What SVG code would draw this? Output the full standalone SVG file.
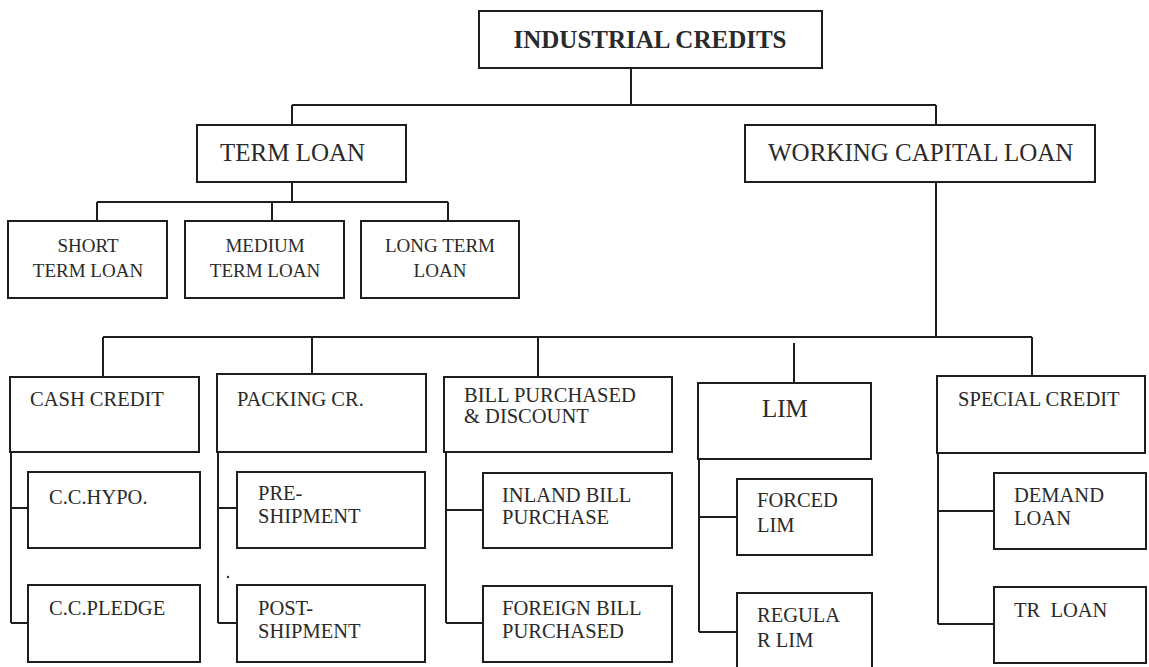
<svg xmlns="http://www.w3.org/2000/svg" width="1149" height="667" viewBox="0 0 1149 667">
  <style>
    .box { fill: #ffffff; stroke: #1e1e1e; stroke-width: 2; }
    .wire { fill: none; stroke: #1e1e1e; stroke-width: 2; }
    text { font-family: "Liberation Serif", "Times New Roman", serif; fill: #2a2a2a; }
    .title { font-size: 25px; font-weight: bold; }
    .big { font-size: 25px; }
    .mid { font-size: 19px; }
    .sm { font-size: 20.5px; }
  </style>
  <rect x="0" y="0" width="1149" height="667" fill="#ffffff"/>

  <!-- connectors -->
  <g id="connectors" class="wire">
    <path d="M631,68 V105 M292,105 H936 M292,105 V125 M936,105 V125"/>
    <path d="M292,182 V202 M97,202 H448 M97,202 V221 M272,202 V221 M448,202 V221"/>
    <path d="M936,182 V337 M103,337 H1032 M103,337 V377 M312,337 V374 M538,337 V377 M794,343 V383 M1032,337 V376"/>
    <path d="M11,452 V623 M11,508 H28 M11,623 H28"/>
    <path d="M218,452 V623 M218,508 H237 M218,623 H237"/>
    <path d="M446,452 V623 M446,510 H483 M446,623 H483"/>
    <path d="M699,459 V632 M699,517 H737 M699,632 H737"/>
    <path d="M938,453 V624 M938,511 H994 M938,624 H994"/>
  </g>

  <g id="industrial-credits">
    <rect class="box" x="479" y="11" width="343" height="57"/>
    <text class="title" x="650" y="48" text-anchor="middle">INDUSTRIAL CREDITS</text>
  </g>

  <g id="term-loan">
    <rect class="box" x="197" y="125" width="209" height="57"/>
    <text class="big" x="220" y="161">TERM LOAN</text>
  </g>

  <g id="working-capital-loan">
    <rect class="box" x="745" y="125" width="350" height="57"/>
    <text class="big" x="768" y="161">WORKING CAPITAL LOAN</text>
  </g>

  <g id="short-term-loan">
    <rect class="box" x="8" y="221" width="159" height="77"/>
    <text class="mid" x="88" y="252" text-anchor="middle">SHORT</text>
    <text class="mid" x="88" y="277" text-anchor="middle">TERM LOAN</text>
  </g>

  <g id="medium-term-loan">
    <rect class="box" x="185" y="221" width="159" height="77"/>
    <text class="mid" x="265" y="252" text-anchor="middle">MEDIUM</text>
    <text class="mid" x="265" y="277" text-anchor="middle">TERM LOAN</text>
  </g>

  <g id="long-term-loan">
    <rect class="box" x="361" y="221" width="158" height="77"/>
    <text class="mid" x="440" y="252" text-anchor="middle">LONG TERM</text>
    <text class="mid" x="440" y="277" text-anchor="middle">LOAN</text>
  </g>

  <g id="cash-credit">
    <rect class="box" x="10" y="377" width="189" height="75"/>
    <text class="sm" x="30" y="406">CASH CREDIT</text>
  </g>

  <g id="packing-credit">
    <rect class="box" x="217" y="374" width="209" height="78"/>
    <text class="sm" x="237" y="406">PACKING CR.</text>
  </g>

  <g id="bill-purchased">
    <rect class="box" x="444" y="377" width="228" height="75"/>
    <text class="sm" x="464" y="402">BILL PURCHASED</text>
    <text class="sm" x="464" y="423">&amp; DISCOUNT</text>
  </g>

  <g id="lim">
    <rect class="box" x="698" y="383" width="173" height="76"/>
    <text class="big" x="762" y="417">LIM</text>
  </g>

  <g id="special-credit">
    <rect class="box" x="937" y="376" width="208" height="77"/>
    <text class="sm" x="958" y="406">SPECIAL CREDIT</text>
  </g>

  <g id="cc-hypo">
    <rect class="box" x="28" y="472" width="172" height="76"/>
    <text class="sm" x="49" y="504">C.C.HYPO.</text>
  </g>

  <g id="cc-pledge">
    <rect class="box" x="28" y="585" width="172" height="77"/>
    <text class="sm" x="49" y="615">C.C.PLEDGE</text>
  </g>

  <g id="pre-shipment">
    <rect class="box" x="237" y="472" width="188" height="76"/>
    <text class="sm" x="258" y="500">PRE-</text>
    <text class="sm" x="258" y="523">SHIPMENT</text>
  </g>

  <g id="post-shipment">
    <rect class="box" x="237" y="585" width="188" height="77"/>
    <text class="sm" x="258" y="615">POST-</text>
    <text class="sm" x="258" y="638">SHIPMENT</text>
  </g>

  <g id="inland-bill">
    <rect class="box" x="483" y="473" width="189" height="75"/>
    <text class="sm" x="502" y="502">INLAND BILL</text>
    <text class="sm" x="502" y="524">PURCHASE</text>
  </g>

  <g id="foreign-bill">
    <rect class="box" x="483" y="586" width="189" height="76"/>
    <text class="sm" x="502" y="615">FOREIGN BILL</text>
    <text class="sm" x="502" y="638">PURCHASED</text>
  </g>

  <g id="forced-lim">
    <rect class="box" x="737" y="479" width="135" height="76"/>
    <text class="sm" x="757" y="507">FORCED</text>
    <text class="sm" x="757" y="532">LIM</text>
  </g>

  <g id="regular-lim">
    <rect class="box" x="737" y="593" width="135" height="90"/>
    <text class="sm" x="757" y="622">REGULA</text>
    <text class="sm" x="757" y="647">R LIM</text>
  </g>

  <g id="demand-loan">
    <rect class="box" x="994" y="473" width="152" height="76"/>
    <text class="sm" x="1014" y="502">DEMAND</text>
    <text class="sm" x="1014" y="525">LOAN</text>
  </g>

  <g id="tr-loan">
    <rect class="box" x="994" y="587" width="152" height="76"/>
    <text class="sm" x="1014" y="617" style="white-space:pre">TR  LOAN</text>
  </g>

  <!-- small speck beside the packing-credit branch -->
  <circle cx="228" cy="577" r="1.2" fill="#333333"/>
</svg>
